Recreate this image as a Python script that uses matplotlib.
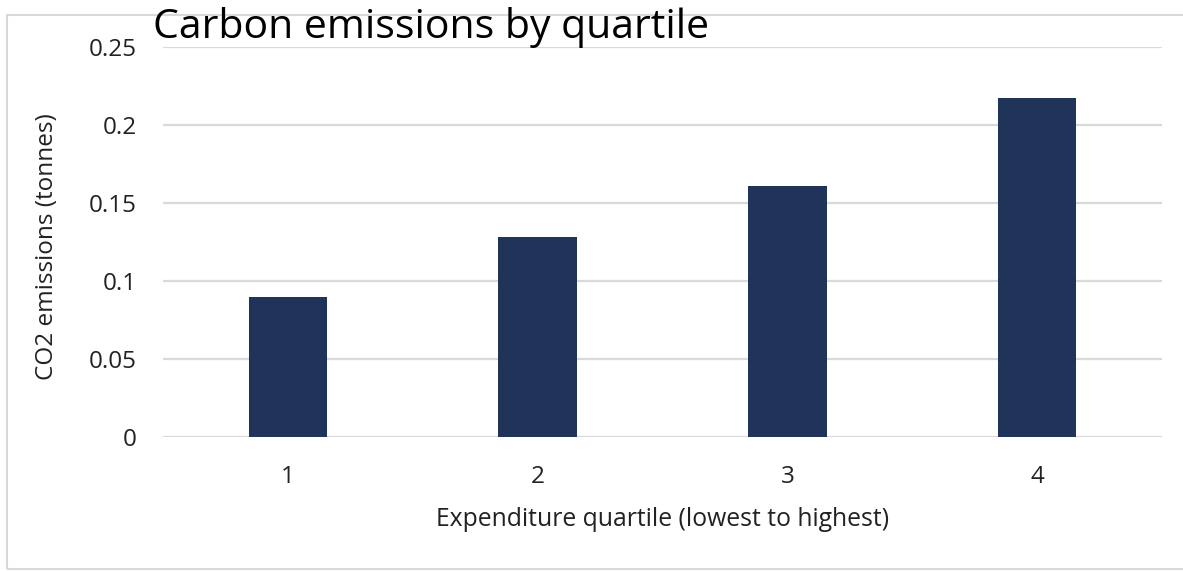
import matplotlib.pyplot as plt
from matplotlib.patches import Rectangle

quartiles = ["1", "2", "3", "4"]
emissions = [0.09, 0.128, 0.161, 0.217]
y_ticks = [0, 0.05, 0.1, 0.15, 0.2, 0.25]
y_tick_labels = ["0", "0.05", "0.1", "0.15", "0.2", "0.25"]

W, H = 1183, 571
plt.rcParams["font.family"] = ["Open Sans", "DejaVu Sans"]

fig = plt.figure(figsize=(W / 100, H / 100), dpi=100)
fig.patch.set_facecolor("white")

# light grey chart frame (right edge runs off the picture)
fig.patches.append(Rectangle((7 / W, 1 - 569 / H), 1.0, (569 - 15) / H,
                             transform=fig.transFigure, fill=False,
                             edgecolor="#d9d9d9", linewidth=1.5))

ax = fig.add_axes([163 / W, 1 - 437 / H, (1162 - 163) / W, (437 - 47) / H])
x = range(len(quartiles))
ax.bar(x, emissions, width=0.315, color="#203359", zorder=3)
ax.set_xlim(-0.5, len(quartiles) - 0.5)
ax.set_ylim(0, 0.25)
ax.set_yticks(y_ticks)
ax.set_yticklabels(y_tick_labels)
ax.set_xticks(list(x))
ax.set_xticklabels(quartiles)
ax.grid(axis="y", color="#d9d9d9", linewidth=1.6, zorder=0)
ax.set_axisbelow(True)
for s in ax.spines.values():
    s.set_visible(False)
ax.tick_params(axis="both", length=0, labelsize=17.5, colors="#222222")
ax.tick_params(axis="y", pad=19)
ax.tick_params(axis="x", pad=20)

fig.text(47 / W, 1 - 247 / H, "CO2 emissions (tonnes)", rotation=90,
         ha="center", va="center", fontsize=17.5, color="#222222")
fig.text(663 / W, 1 - 520 / H, "Expenditure quartile (lowest to highest)",
         ha="center", va="center", fontsize=17.8, color="#222222")
fig.text(153 / W, 1 - 27 / H, "Carbon emissions by quartile",
         ha="left", va="center", fontsize=29.5, color="black")

fig.savefig("out.png", dpi=100)
